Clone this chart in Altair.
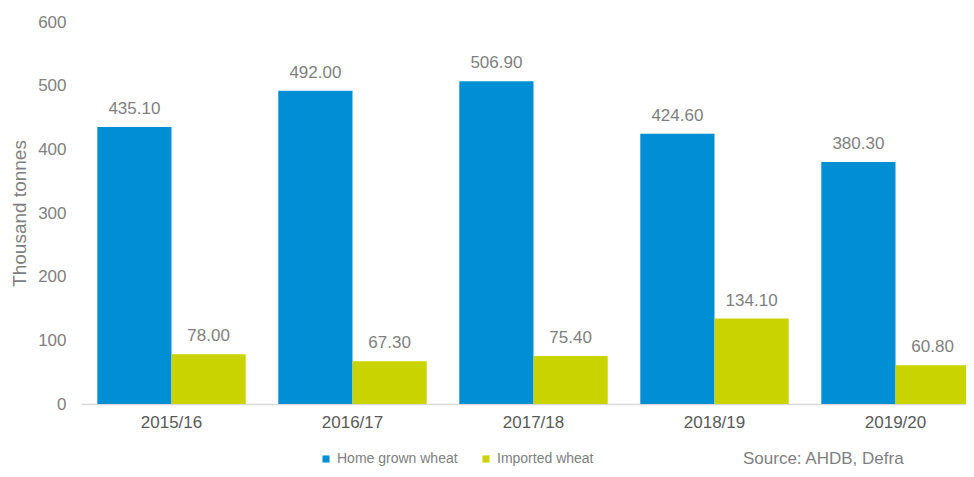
import altair as alt
import pandas as pd

years = ["2015/16", "2016/17", "2017/18", "2018/19", "2019/20"]
home_grown = [435.10, 492.00, 506.90, 424.60, 380.30]
imported = [78.00, 67.30, 75.40, 134.10, 60.80]
series = ["Home grown wheat", "Imported wheat"]
colors = ["#008FD5", "#C9D300"]

rows = []
for i, y in enumerate(years):
    rows.append({"year": y, "series": series[0], "value": home_grown[i]})
    rows.append({"year": y, "series": series[1], "value": imported[i]})
df = pd.DataFrame(rows)

FONT = "Liberation Sans"
GREY = "#7F7F7F"

x_enc = alt.X("year:N", sort=years, title=None,
              scale=alt.Scale(range=[0, 905], paddingInner=0.18, paddingOuter=0.09),
              axis=alt.Axis(labelAngle=0, ticks=False, domainColor="#D9D9D9", domainWidth=1.5,
                            labelFont=FONT, labelFontSize=17, labelColor="#595959", labelPadding=10))
xo_enc = alt.XOffset("series:N", sort=series, scale=alt.Scale(paddingInner=0, paddingOuter=0))
y_enc = alt.Y("value:Q", title="Thousand tonnes",
              scale=alt.Scale(domain=[0, 600], nice=False),
              axis=alt.Axis(values=[0, 100, 200, 300, 400, 500, 600], grid=False, ticks=False, domain=False,
                            labelFont=FONT, labelFontSize=17, labelColor="#808080", labelPadding=15,
                            titleFont=FONT, titleFontSize=19, titleColor="#808080", titleFontWeight="normal",
                            titlePadding=8))

bars = alt.Chart(df).mark_bar().encode(
    x=x_enc, xOffset=xo_enc, y=y_enc,
    color=alt.Color("series:N", sort=series, scale=alt.Scale(domain=series, range=colors),
                    legend=alt.Legend(title=None, orient="none", direction="horizontal",
                                      legendX=238, legendY=430, symbolType="square", symbolSize=50,
                                      symbolStrokeWidth=0, labelFont=FONT, labelFontSize=14,
                                      labelColor="#808080", columnPadding=21, labelOffset=4,
                                      labelLimit=300)),
)

labels = alt.Chart(df).mark_text(baseline="bottom", dy=-9, font=FONT, fontSize=17, color=GREY).encode(
    x=alt.X("year:N", sort=years), xOffset=alt.XOffset("series:N", sort=series),
    y="value:Q", text=alt.Text("value:Q", format=".2f"),
)

source = alt.Chart(pd.DataFrame({"t": ["Source: AHDB, Defra"]})).mark_text(
    align="left", baseline="bottom", font=FONT, fontSize=17, color=GREY
).encode(x=alt.value(662), y=alt.value(446), text="t:N")

chart = alt.layer(bars, labels, source).properties(
    width=885, height=382,
    autosize=alt.AutoSizeParams(type="none"),
    padding={"left": 73, "top": 14, "right": 0, "bottom": 65},
).configure_view(stroke=None)

chart.save("out.html", embed_options={"renderer": "svg", "actions": False})
